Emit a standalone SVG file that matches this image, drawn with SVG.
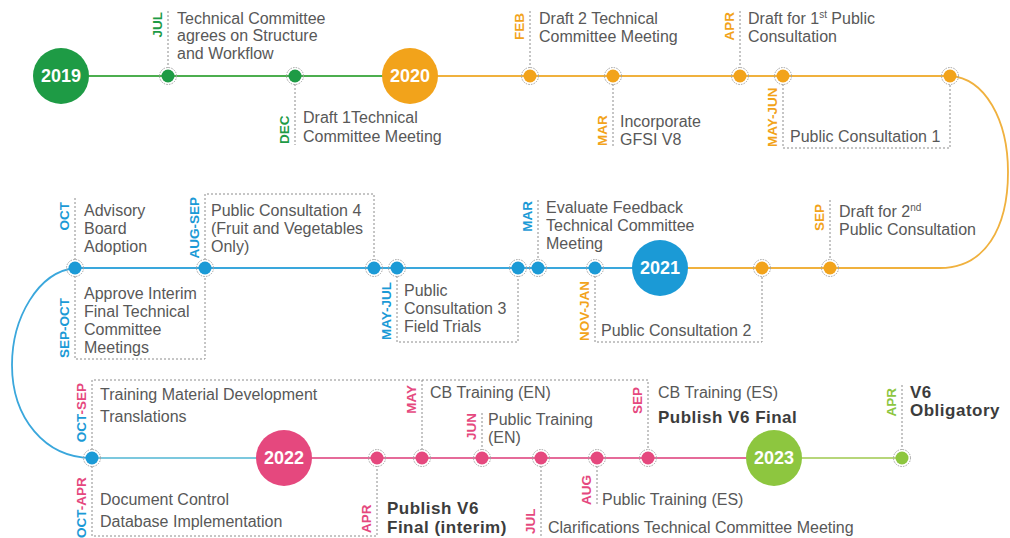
<svg xmlns="http://www.w3.org/2000/svg" width="1010" height="538" viewBox="0 0 1010 538">
<style>
.t{font-family:"Liberation Sans",Arial,sans-serif;font-size:16px;fill:#585858}
.b{font-family:"Liberation Sans",Arial,sans-serif;font-size:17px;font-weight:bold;fill:#3c3c3c;letter-spacing:0.5px}
.m{font-family:"Liberation Sans",Arial,sans-serif;font-size:13.5px;font-weight:bold}
.yr{font-family:"Liberation Sans",Arial,sans-serif;font-size:18px;font-weight:bold;fill:#fff;text-anchor:middle}
.lead{fill:none;stroke:#8c8c8c;stroke-width:1;stroke-dasharray:2 2}
.ring{fill:none;stroke:#a0a0a0;stroke-width:1;stroke-dasharray:1.5 1.2}
.tl{fill:none;stroke-width:1.8}
.g{fill:#1e9b45}.o{fill:#f2a31b}.bl{fill:#1b9ad6}.p{fill:#e5487e}.l{fill:#8dc63f}
.sup{font-size:10px}
</style>
<g id="connectors">
<path class="tl" stroke="#4cae4f" d="M61,76 H410"/>
<path class="tl" stroke="#f0b13e" d="M410,76 H950 C985,78 1008,120 1008,172 C1008,228 985,268 940,268 H660"/>
<path class="tl" stroke="#3aa7dc" d="M660,268 H75 C38,272 12,318 12,365 C12,418 45,458 92,458"/>
<path class="tl" stroke="#7cc8de" d="M92,458 H284"/>
<path class="tl" stroke="#e56b99" d="M284,458 H774"/>
<path class="tl" stroke="#b7d67a" d="M774,458 H902"/>
<path class="lead" d="M168,11 V68"/>
<path class="lead" d="M295,84 V145"/>
<path class="lead" d="M530,11 V68"/>
<path class="lead" d="M613,84 V146"/>
<path class="lead" d="M740,11 V68"/>
<path class="lead" d="M783,84 V148 H950 V84"/>
<path class="lead" d="M75,198 V260"/>
<path class="lead" d="M75,276 V359 H205 V276"/>
<path class="lead" d="M205,260 V194 H374 V260"/>
<path class="lead" d="M397,276 V342 H518 V276"/>
<path class="lead" d="M538,200 V260"/>
<path class="lead" d="M595,276 V342 H762 V276"/>
<path class="lead" d="M830,200 V260"/>
<path class="lead" d="M92,450 V380 H648 V450"/>
<path class="lead" d="M92,466 V536 H377 V466"/>
<path class="lead" d="M422,380 V450"/>
<path class="lead" d="M482,413 V450"/>
<path class="lead" d="M541,466 V538"/>
<path class="lead" d="M597,466 V505"/>
<path class="lead" d="M902,385 V450"/>
</g>
<g id="y2019"><circle class="g" cx="61" cy="76" r="28"/><text class="yr" x="61" y="82">2019</text></g>
<g id="y2020"><circle class="o" cx="410" cy="76" r="28"/><text class="yr" x="410" y="82">2020</text></g>
<g id="y2021"><circle class="bl" cx="660" cy="268" r="28"/><text class="yr" x="660" y="274">2021</text></g>
<g id="y2022"><circle class="p" cx="284" cy="458" r="28"/><text class="yr" x="284" y="464">2022</text></g>
<g id="y2023"><circle class="l" cx="774" cy="458" r="28"/><text class="yr" x="774" y="464">2023</text></g>

<g id="e2019jul"><circle class="g" cx="168" cy="76" r="6.5"/><circle class="ring" cx="168" cy="76" r="8.5"/>
<text class="m g" transform="translate(162,12) rotate(-90)" text-anchor="end">JUL</text>
<text class="t" x="177" y="23.5">Technical Committee</text><text class="t" x="177" y="41">agrees on Structure</text><text class="t" x="177" y="58.5">and Workflow</text></g>
<g id="e2019dec"><circle class="g" cx="295" cy="76" r="6.5"/><circle class="ring" cx="295" cy="76" r="8.5"/>
<text class="m g" transform="translate(289,144) rotate(-90)">DEC</text>
<text class="t" x="303" y="123">Draft 1Technical</text><text class="t" x="303" y="142">Committee Meeting</text></g>
<g id="e2020feb"><circle class="o" cx="530" cy="76" r="6.5"/><circle class="ring" cx="530" cy="76" r="8.5"/>
<text class="m o" transform="translate(524,13) rotate(-90)" text-anchor="end">FEB</text>
<text class="t" x="539" y="24">Draft 2 Technical</text><text class="t" x="539" y="42">Committee Meeting</text></g>
<g id="e2020mar"><circle class="o" cx="613" cy="76" r="6.5"/><circle class="ring" cx="613" cy="76" r="8.5"/>
<text class="m o" transform="translate(607,146) rotate(-90)">MAR</text>
<text class="t" x="620" y="127">Incorporate</text><text class="t" x="620" y="145">GFSI V8</text></g>
<g id="e2020apr"><circle class="o" cx="740" cy="76" r="6.5"/><circle class="ring" cx="740" cy="76" r="8.5"/>
<text class="m o" transform="translate(734,12) rotate(-90)" text-anchor="end">APR</text>
<text class="t" x="748" y="24">Draft for 1<tspan class="sup" dy="-6">st</tspan><tspan dy="6"> Public</tspan></text><text class="t" x="748" y="42">Consultation</text></g>
<g id="e2020mayjun"><circle class="o" cx="783" cy="76" r="6.5"/><circle class="ring" cx="783" cy="76" r="8.5"/><circle class="o" cx="950" cy="76" r="6.5"/><circle class="ring" cx="950" cy="76" r="8.5"/>
<text class="m o" transform="translate(777,147) rotate(-90)">MAY-JUN</text>
<text class="t" x="790" y="142">Public Consultation 1</text></g>

<g id="e2020sep"><circle class="o" cx="830" cy="268" r="6.5"/><circle class="ring" cx="830" cy="268" r="8.5"/>
<text class="m o" transform="translate(824,204) rotate(-90)" text-anchor="end">SEP</text>
<text class="t" x="839" y="217">Draft for 2<tspan class="sup" dy="-6">nd</tspan></text><text class="t" x="839" y="235">Public Consultation</text></g>
<g id="e2020novjan"><circle class="bl" cx="595" cy="268" r="6.5"/><circle class="ring" cx="595" cy="268" r="8.5"/><circle class="o" cx="762" cy="268" r="6.5"/><circle class="ring" cx="762" cy="268" r="8.5"/>
<text class="m o" transform="translate(589,341) rotate(-90)">NOV-JAN</text>
<text class="t" x="601" y="336">Public Consultation 2</text></g>
<g id="e2021mar"><circle class="bl" cx="538" cy="268" r="6.5"/><circle class="ring" cx="538" cy="268" r="8.5"/>
<text class="m bl" transform="translate(532,201) rotate(-90)" text-anchor="end">MAR</text>
<text class="t" x="546" y="213">Evaluate Feedback</text><text class="t" x="546" y="231">Technical Committee</text><text class="t" x="546" y="249">Meeting</text></g>
<g id="e2021mayjul"><circle class="bl" cx="397" cy="268" r="6.5"/><circle class="ring" cx="397" cy="268" r="8.5"/><circle class="bl" cx="518" cy="268" r="6.5"/><circle class="ring" cx="518" cy="268" r="8.5"/>
<text class="m bl" transform="translate(391,340) rotate(-90)">MAY-JUL</text>
<text class="t" x="404" y="296">Public</text><text class="t" x="404" y="314">Consultation 3</text><text class="t" x="404" y="332">Field Trials</text></g>
<g id="e2021augsep"><circle class="bl" cx="205" cy="268" r="6.5"/><circle class="ring" cx="205" cy="268" r="8.5"/><circle class="bl" cx="374" cy="268" r="6.5"/><circle class="ring" cx="374" cy="268" r="8.5"/>
<text class="m bl" transform="translate(199,197) rotate(-90)" text-anchor="end">AUG-SEP</text>
<text class="t" x="211" y="216">Public Consultation 4</text><text class="t" x="211" y="234">(Fruit and Vegetables</text><text class="t" x="211" y="252">Only)</text></g>
<g id="e2021oct"><circle class="bl" cx="75" cy="268" r="6.5"/><circle class="ring" cx="75" cy="268" r="8.5"/>
<text class="m bl" transform="translate(69,202) rotate(-90)" text-anchor="end">OCT</text>
<text class="t" x="84" y="216">Advisory</text><text class="t" x="84" y="234">Board</text><text class="t" x="84" y="252">Adoption</text></g>
<g id="e2021sepoct">
<text class="m bl" transform="translate(69,358) rotate(-90)">SEP-OCT</text>
<text class="t" x="84" y="299">Approve Interim</text><text class="t" x="84" y="317">Final Technical</text><text class="t" x="84" y="335">Committee</text><text class="t" x="84" y="353">Meetings</text></g>

<g id="e2021octsep"><circle class="bl" cx="92" cy="458" r="6.5"/><circle class="ring" cx="92" cy="458" r="8.5"/>
<text class="m" transform="translate(86,383) rotate(-90)" text-anchor="end"><tspan class="bl">OCT</tspan><tspan class="p">-SEP</tspan></text>
<text class="t" x="100" y="400">Training Material Development</text><text class="t" x="100" y="422">Translations</text></g>
<g id="e2021octapr">
<text class="m" transform="translate(86,538) rotate(-90)"><tspan class="bl">OCT</tspan><tspan class="p">-APR</tspan></text>
<text class="t" x="100" y="505">Document Control</text><text class="t" x="100" y="527">Database Implementation</text></g>
<g id="e2022apr"><circle class="p" cx="377" cy="458" r="6.5"/><circle class="ring" cx="377" cy="458" r="8.5"/>
<text class="m p" transform="translate(371,533) rotate(-90)">APR</text>
<text class="b" x="387" y="514">Publish V6</text><text class="b" x="387" y="533">Final (interim)</text></g>
<g id="e2022may"><circle class="p" cx="422" cy="458" r="6.5"/><circle class="ring" cx="422" cy="458" r="8.5"/>
<text class="m p" transform="translate(416,385) rotate(-90)" text-anchor="end">MAY</text>
<text class="t" x="430" y="398">CB Training (EN)</text></g>
<g id="e2022jun"><circle class="p" cx="482" cy="458" r="6.5"/><circle class="ring" cx="482" cy="458" r="8.5"/>
<text class="m p" transform="translate(476,413) rotate(-90)" text-anchor="end">JUN</text>
<text class="t" x="488" y="425">Public Training</text><text class="t" x="488" y="443">(EN)</text></g>
<g id="e2022jul"><circle class="p" cx="541" cy="458" r="6.5"/><circle class="ring" cx="541" cy="458" r="8.5"/>
<text class="m p" transform="translate(535,534) rotate(-90)">JUL</text>
<text class="t" x="548" y="533">Clarifications Technical Committee Meeting</text></g>
<g id="e2022aug"><circle class="p" cx="597" cy="458" r="6.5"/><circle class="ring" cx="597" cy="458" r="8.5"/>
<text class="m p" transform="translate(591,505) rotate(-90)">AUG</text>
<text class="t" x="602" y="505">Public Training (ES)</text></g>
<g id="e2022sep"><circle class="p" cx="648" cy="458" r="6.5"/><circle class="ring" cx="648" cy="458" r="8.5"/>
<text class="m p" transform="translate(642,387) rotate(-90)" text-anchor="end">SEP</text>
<text class="t" x="658" y="398">CB Training (ES)</text><text class="b" x="658" y="423">Publish V6 Final</text></g>
<g id="e2023apr"><circle class="l" cx="902" cy="458" r="6.5"/><circle class="ring" cx="902" cy="458" r="8.5"/>
<text class="m l" transform="translate(896,388) rotate(-90)" text-anchor="end">APR</text>
<text class="b" x="910" y="398">V6</text><text class="b" x="910" y="416">Obligatory</text></g>
</svg>
